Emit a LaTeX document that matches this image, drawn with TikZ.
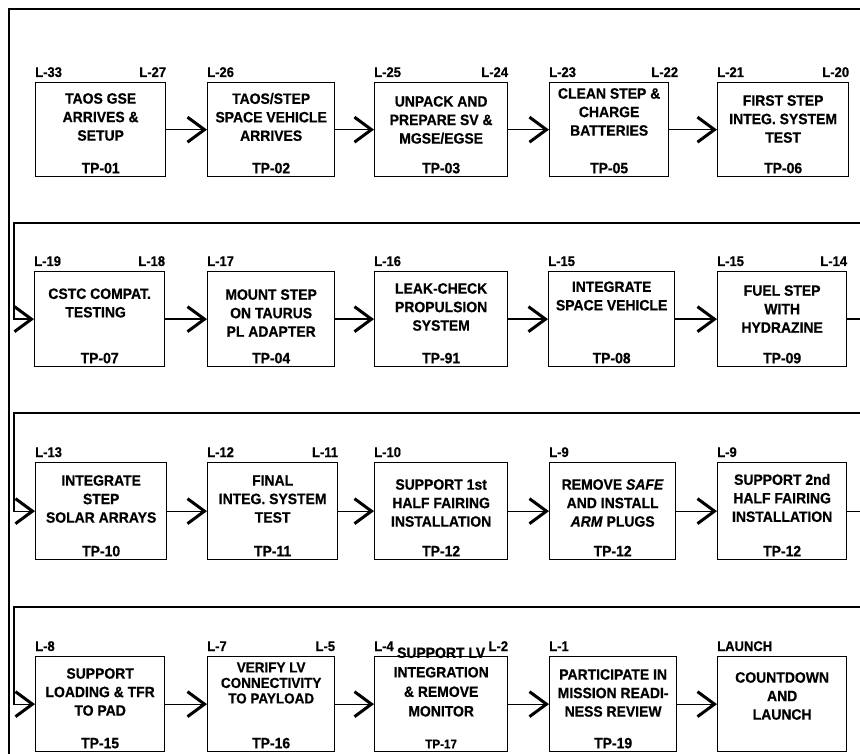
\documentclass[tikz,border=0pt]{standalone}
\usepackage{fontspec}
\setmainfont{Liberation Sans}[FakeStretch=0.93, BoldFeatures={FakeBold=0.6}, BoldItalicFeatures={FakeBold=0.6}]
\usetikzlibrary{arrows.meta}
\tikzset{
 pbox/.style={draw, line width=1.3pt, inner sep=0pt},
 mtxt/.style={font=\fontsize{15}{18.5}\selectfont\bfseries, align=center, inner sep=0pt},
 tp/.style={font=\fontsize{15}{16}\selectfont\bfseries, inner sep=0pt, anchor=base},
 lab/.style={font=\fontsize{14}{15}\selectfont\bfseries, inner sep=0pt},
 flow/.style={line width=1.3pt, -{Straight Barb[length=17pt,width=25pt,line width=3pt]}},
 plain/.style={line width=1.3pt},
 frameline/.style={line width=2pt},
}
\newcommand\pb[6]{%
 \node[pbox, anchor=north west, minimum width={#4-#2}, minimum height={#5-#3}] (#1) at (#2,#3) {};
 \node[tp, yshift=4pt] (#1-tp) at (#1.south) {#6};}
\newcommand\lbl[3]{%
 \node[lab, anchor=base west, yshift=5pt] (#1-la) at (#1.north west) {#2};
 \node[lab, anchor=base east, yshift=5pt] (#1-lb) at (#1.north east) {#3};}
\begin{document}
\begin{tikzpicture}[x=1pt,y=-1pt]
\useasboundingbox (0,0) rectangle (860,754);
% frame
\coordinate (fa) at (860,9.5);
\coordinate (fb) at (9,9.5);
\coordinate (fc) at (9,754);
\draw[frameline] (fa) -- (fb) -- (fc);

% ---------------- row 1
\pb{r1c1}{35}{82}{165}{176}{TP-01}
\pb{r1c2}{207}{82}{334}{176}{TP-02}
\pb{r1c3}{374}{82}{507}{176}{TP-03}
\pb{r1c4}{549}{82}{668}{176}{TP-05}
\pb{r1c5}{717}{82}{848}{176}{TP-06}
\node[mtxt] (r1c1-t) at (r1c1.center |- 0,117) {TAOS GSE\\ARRIVES \&\\SETUP};
\node[mtxt] (r1c2-t) at (r1c2.center |- 0,117) {TAOS/STEP\\SPACE VEHICLE\\ARRIVES};
\node[mtxt] (r1c3-t) at (r1c3.center |- 0,120) {UNPACK AND\\PREPARE SV \&\\MGSE/EGSE};
\node[mtxt] (r1c4-t) at (r1c4.center |- 0,112) {CLEAN STEP \&\\CHARGE\\BATTERIES};
\node[mtxt] (r1c5-t) at (r1c5.center |- 0,119) {FIRST STEP\\INTEG. SYSTEM\\TEST};
\node[lab, anchor=base west, yshift=5pt] (r1c1-la) at (r1c1.north west) {L-33};
\node[lab, anchor=base east, yshift=5pt] (r1c1-lb) at (r1c1.north east) {L-27};
\node[lab, anchor=base west, yshift=5pt] (r1c2-la) at (r1c2.north west) {L-26};
\lbl{r1c3}{L-25}{L-24}
\node[lab, anchor=base west, yshift=5pt] (r1c4-la) at (r1c4.north west) {L-23};
\node[lab, anchor=base east, yshift=5pt, xshift=9pt] (r1c4-lb) at (r1c4.north east) {L-22};
\lbl{r1c5}{L-21}{L-20}
\draw[flow] (r1c1) -- (r1c2);
\draw[flow] (r1c2) -- (r1c3);
\draw[flow] (r1c3) -- (r1c4);
\draw[flow] (r1c4) -- (r1c5);

% ---------------- row 2
\pb{r2c1}{34}{271}{164}{366}{TP-07}
\pb{r2c2}{207}{271}{334}{366}{TP-04}
\pb{r2c3}{374}{271}{507}{366}{TP-91}
\pb{r2c4}{548}{271}{674}{366}{TP-08}
\pb{r2c5}{717}{271}{846}{366}{TP-09}
\node[mtxt, align=left] (r2c1-t) at (r2c1.center |- 0,303) {CSTC COMPAT.\\\hspace*{17pt}TESTING};
\node[mtxt] (r2c2-t) at (r2c2.center |- 0,313) {MOUNT STEP\\ON TAURUS\\PL ADAPTER};
\node[mtxt] (r2c3-t) at (r2c3.center |- 0,307) {LEAK-CHECK\\PROPULSION\\SYSTEM};
\node[mtxt] (r2c4-t) at (r2c4.center |- 0,296) {INTEGRATE\\SPACE VEHICLE};
\node[mtxt] (r2c5-t) at (r2c5.center |- 0,309) {FUEL STEP\\WITH\\HYDRAZINE};
\lbl{r2c1}{L-19}{L-18}
\node[lab, anchor=base west, yshift=5pt] (r2c2-la) at (r2c2.north west) {L-17};
\node[lab, anchor=base west, yshift=5pt] (r2c3-la) at (r2c3.north west) {L-16};
\node[lab, anchor=base west, yshift=5pt] (r2c4-la) at (r2c4.north west) {L-15};
\lbl{r2c5}{L-15}{L-14}
\coordinate (e2) at (860,223);
\coordinate (k2) at (14,223);
\draw[flow] (e2) -- (k2) |- (r2c1.west);
\draw[flow] (r2c1) -- (r2c2);
\draw[flow] (r2c2) -- (r2c3);
\draw[flow] (r2c3) -- (r2c4);
\draw[flow] (r2c4) -- (r2c5);
\draw[plain] (r2c5.east) -- ++(14,0);

% ---------------- row 3
\pb{r3c1}{35}{462}{166}{559}{TP-10}
\pb{r3c2}{207}{462}{337}{559}{TP-11}
\pb{r3c3}{374}{462}{507}{559}{TP-12}
\pb{r3c4}{549}{462}{675}{559}{TP-12}
\pb{r3c5}{717}{462}{846}{559}{TP-12}
\node[mtxt] (r3c1-t) at (r3c1.center |- 0,499) {INTEGRATE\\STEP\\SOLAR ARRAYS};
\node[mtxt] (r3c2-t) at (r3c2.center |- 0,499) {FINAL\\INTEG. SYSTEM\\TEST};
\node[mtxt] (r3c3-t) at (r3c3.center |- 0,503) {SUPPORT 1st\\HALF FAIRING\\INSTALLATION};
\node[mtxt] (r3c4-t) at (r3c4.center |- 0,503) {REMOVE \textit{SAFE}\\AND INSTALL\\\textit{ARM} PLUGS};
\node[mtxt] (r3c5-t) at (r3c5.center |- 0,498) {SUPPORT 2nd\\HALF FAIRING\\INSTALLATION};
\node[lab, anchor=base west, yshift=5pt] (r3c1-la) at (r3c1.north west) {L-13};
\lbl{r3c2}{L-12}{L-11}
\node[lab, anchor=base west, yshift=5pt] (r3c3-la) at (r3c3.north west) {L-10};
\node[lab, anchor=base west, yshift=5pt] (r3c4-la) at (r3c4.north west) {L-9};
\node[lab, anchor=base west, yshift=5pt] (r3c5-la) at (r3c5.north west) {L-9};
\coordinate (e3) at (860,413);
\coordinate (k3) at (14,413);
\draw[flow] (e3) -- (k3) |- (r3c1.west);
\draw[flow] (r3c1) -- (r3c2);
\draw[flow] (r3c2) -- (r3c3);
\draw[flow] (r3c3) -- (r3c4);
\draw[flow] (r3c4) -- (r3c5);
\draw[plain] (r3c5.east) -- ++(14,0);

% ---------------- row 4
\pb{r4c1}{35}{656}{164}{751}{TP-15}
\pb{r4c2}{207}{656}{334}{751}{TP-16}
\pb{r4c3}{374}{656}{507}{751}{\fontsize{12.5}{14}\selectfont TP-17}
\pb{r4c4}{549}{656}{676}{751}{TP-19}
\pb{r4c5}{717}{656}{846}{751}{}
\node[mtxt] (r4c1-t) at (r4c1.center |- 0,692) {SUPPORT\\LOADING \& TFR\\TO PAD};
\node[mtxt, font=\fontsize{14.5}{15.5}\selectfont\bfseries] (r4c2-t) at (r4c2.center |- 0,683) {VERIFY LV\\CONNECTIVITY\\TO PAYLOAD};
\node[mtxt, font=\fontsize{15}{19.5}\selectfont\bfseries] (r4c3-t) at (r4c3.center |- 0,682) {SUPPORT LV\\INTEGRATION\\\& REMOVE\\MONITOR};
\node[mtxt] (r4c4-t) at (r4c4.center |- 0,693) {PARTICIPATE IN\\MISSION READI-\\NESS REVIEW};
\node[mtxt] (r4c5-t) at (r4c5.center |- 0,696) {COUNTDOWN\\AND\\LAUNCH};
\node[lab, anchor=base west, yshift=5pt] (r4c1-la) at (r4c1.north west) {L-8};
\lbl{r4c2}{L-7}{L-5}
\lbl{r4c3}{L-4}{L-2}
\node[lab, anchor=base west, yshift=5pt] (r4c4-la) at (r4c4.north west) {L-1};
\node[lab, anchor=base west, yshift=5pt] (r4c5-la) at (r4c5.north west) {LAUNCH};
\coordinate (e4) at (860,607);
\coordinate (k4) at (14,607);
\draw[flow] (e4) -- (k4) |- (r4c1.west);
\draw[flow] (r4c1) -- (r4c2);
\draw[flow] (r4c2) -- (r4c3);
\draw[flow] (r4c3) -- (r4c4);
\draw[flow] (r4c4) -- (r4c5);
\end{tikzpicture}
\end{document}
